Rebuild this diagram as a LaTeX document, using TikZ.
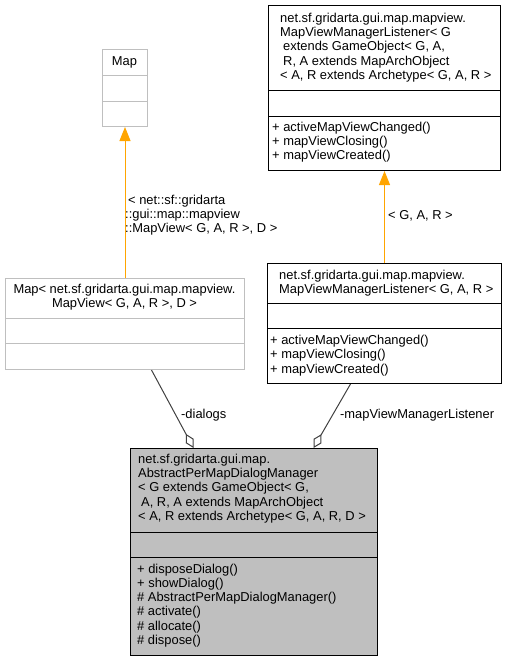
\documentclass[tikz,border=0pt]{standalone}
\usepackage{fontspec}
\setmainfont{Liberation Sans}
\usetikzlibrary{arrows.meta}
\definecolor{boxgray}{HTML}{BFBFBF}
\definecolor{edgegray}{HTML}{404040}
\definecolor{inhorange}{HTML}{FFA500}
\begin{document}
\begin{tikzpicture}[x=1pt,y=-1pt,
  every node/.style={font=\fontsize{12.9}{14.2}\selectfont, inner sep=0pt},
  umlbox/.style={draw=black, line width=1pt, anchor=north west, minimum width=#1},
  umlbox/.default=10pt,
  txt/.style={anchor=west, align=left},
  ctxt/.style={anchor=center, align=center},
  inh/.style={draw=inhorange, line width=1pt, -{Triangle[length=14pt,width=11pt,fill=inhorange]}},
  agg/.style={draw=edgegray, line width=1pt, -{Diamond[open,length=16pt,width=9pt,fill=white]}},
  lbl/.style={anchor=west, align=left}
]
\useasboundingbox (0,0) rectangle (507,661);

% ---- top right: MapViewManagerListener (generic) ----
\node[umlbox=232pt, minimum height=165pt] (lt) at (268,5) {};
\draw[line width=1pt] (268,90) -- (500,90);
\draw[line width=1pt] (268,116) -- (500,116);
\node[txt] (ltT) at (280,47.5) {net.sf.gridarta.gui.map.mapview.\\MapViewManagerListener< G\\\hspace{3pt}extends GameObject< G, A,\\\hspace{3pt}R, A extends MapArchObject\\< A, R extends Archetype< G, A, R >};
\node[txt] (ltM) at (272,142) {+ activeMapViewChanged()\\+ mapViewClosing()\\+ mapViewCreated()};

% ---- Map ----
\node[umlbox=45pt, draw=boxgray, minimum height=77pt] (map) at (102,49) {};
\draw[boxgray, line width=1pt] (102,75) -- (147,75);
\draw[boxgray, line width=1pt] (102,101) -- (147,101);
\node[ctxt] (mapT) at (124.5,62) {Map};

% ---- Map< ... > ----
\node[umlbox=239pt, draw=boxgray, minimum height=91pt] (mapv) at (5,278) {};
\draw[boxgray, line width=1pt] (5,318) -- (244,318);
\draw[boxgray, line width=1pt] (5,343) -- (244,343);
\node[ctxt] (mapvT) at (124.5,297.5) {Map< net.sf.gridarta.gui.map.mapview.\\MapView< G, A, R >, D >};

% ---- MapViewManagerListener< G, A, R > ----
\node[umlbox=234pt, minimum height=120pt] (lis) at (267,263) {};
\draw[line width=1pt] (267,303) -- (501,303);
\draw[line width=1pt] (267,328) -- (501,328);
\node[txt] (lisT) at (279,283) {net.sf.gridarta.gui.map.mapview.\\MapViewManagerListener< G, A, R >};
\node[txt] (lisM) at (270,355.5) {+ activeMapViewChanged()\\+ mapViewClosing()\\+ mapViewCreated()};

% ---- AbstractPerMapDialogManager ----
\node[umlbox=247pt, fill=boxgray, minimum height=207pt] (mgr) at (130,448) {};
\draw[line width=1pt] (130,532) -- (377,532);
\draw[line width=1pt] (130,557) -- (377,557);
\node[txt] (mgrT) at (138,488.5) {net.sf.gridarta.gui.map.\\AbstractPerMapDialogManager\\< G extends GameObject< G,\\\hspace{3pt}A, R, A extends MapArchObject\\< A, R extends Archetype< G, A, R, D >};
\node[txt] (mgrM) at (137,605.5) {+ disposeDialog()\\+ showDialog()\\\# AbstractPerMapDialogManager()\\\# activate()\\\# allocate()\\\# dispose()};

% ---- connectors ----
\draw[inh] (mapv.north) -- (map.south);
\node[lbl] (l1) at (125,215) {\hspace{3pt}< net::sf::gridarta\\::gui::map::mapview\\::MapView< G, A, R >, D >};
\draw[inh] (lis.north) -- (lt.south);
\node[lbl] (l2) at (388,216) {< G, A, R >};
\draw[agg] ([xshift=26.5pt]mapv.south) -- ([xshift=-60.5pt]mgr.north);
\node[lbl] (l3) at (181,415) {-dialogs};
\draw[agg] ([xshift=-34pt]lis.south) -- ([xshift=59.5pt]mgr.north);
\node[lbl] (l4) at (340,415) {-mapViewManagerListener};
\end{tikzpicture}
\end{document}
